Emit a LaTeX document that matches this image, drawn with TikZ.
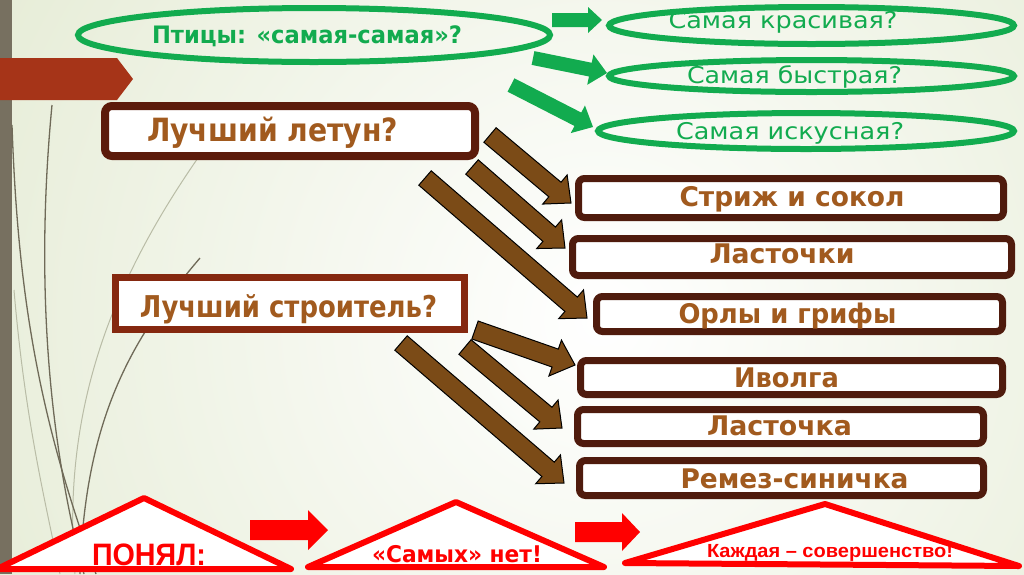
\documentclass[tikz,border=0pt]{standalone}
\usepackage{fontspec}
\usepackage{graphicx}
\usetikzlibrary{calc,shapes.geometric,shapes.misc}
\newfontfamily\gothic{DejaVu Sans}
\newfontfamily\narrowf{Liberation Sans}
\definecolor{grn}{HTML}{12AB4F}
\definecolor{brtxt}{HTML}{A15A1E}
\definecolor{boxbr}{HTML}{4F1B0D}
\definecolor{letbr}{HTML}{5C1B0B}
\definecolor{strbr}{HTML}{85280F}
\definecolor{arrbr}{HTML}{7B4B17}
\definecolor{tabred}{HTML}{A63418}
\definecolor{barc}{HTML}{777060}
\definecolor{bgout}{HTML}{DFE7CB}
\definecolor{decodark}{HTML}{6F6A58}
\definecolor{decolight}{HTML}{B9BCA6}
\newcommand\fitw[2]{\resizebox{#1}{\height}{#2}}
% block arrow: style, start, tip, shaft half width, head half width, head length
\newcommand\blockarrow[6]{%
  \coordinate (bah) at ($(#3)!#6!(#2)$);
  \path[#1] ($(#2)!#4!90:(#3)$) -- ($(bah)!#4!90:(#3)$) -- ($(bah)!#5!90:(#3)$)
    -- (#3) -- ($(bah)!#5!-90:(#3)$) -- ($(bah)!#4!-90:(#3)$) -- ($(#2)!#4!-90:(#3)$) -- cycle;
}
\begin{document}
\begin{tikzpicture}[x=1pt,y=-1pt,
  ell/.style={ellipse, draw=grn, line width=6pt, inner sep=0pt},
  rbox/.style={rectangle, draw=boxbr, line width=7pt, fill=white, rounded corners=6pt, inner sep=0pt},
  txtb/.style={anchor=base, inner sep=0pt, text=brtxt, font=\gothic\bfseries\fontsize{27}{27}\selectfont},
  txtg/.style={anchor=base, inner sep=0pt, text=grn, font=\gothic\fontsize{23}{23}\selectfont},
  txtr/.style={anchor=base, inner sep=0pt, text=red, font=\narrowf\bfseries\fontsize{31}{31}\selectfont},
  brarrow/.style={fill=arrbr, draw=black, line width=1pt, line join=miter},
  grarrow/.style={fill=grn},
  rdarrow/.style={fill=red},
  tri/.style={draw=red, line width=6pt, fill=white, line join=round},
  decod/.style={draw=decodark, line width=1.3pt},
  decol/.style={draw=decolight, line width=1pt}]
\useasboundingbox (0,0) rectangle (1024,574);
% background
\fill[bgout] (0,0) rectangle (1024,574);
\begin{scope}
  \clip (0,0) rectangle (1024,574);
  \shade[inner color=white, outer color=bgout] (600,320) circle[radius=900];
\end{scope}
\fill[barc] (0,0) rectangle (12,574);
% decorative grass lines
\draw[decol] (200,155) .. controls (120,270) and (60,400) .. (75,574);
\draw[decol] (14,290) .. controls (25,420) and (45,500) .. (60,574);
\draw[decod] (52,105) .. controls (40,230) and (38,400) .. (84,574);
\draw[decod] (12,125) .. controls (18,300) and (40,420) .. (96,574);
\draw[decod] (200,258) .. controls (130,340) and (85,420) .. (80,574);
% red tab
\fill[tabred] (0,58) -- (117,58) -- (133,79) -- (117,100) -- (0,100) -- cycle;
% ellipses
\node[ell, minimum width=472pt, minimum height=54pt] (e1) at (314,35) {};
\node[txtg, font=\gothic\bfseries\fontsize{24}{24}\selectfont] (t1) at ($(e1.center)+(-7,8)$) {\fitw{310pt}{Птицы: «самая-самая»?}};
\node[ell, minimum width=405pt, minimum height=37pt] (e2) at (811.5,25.5) {};
\node[txtg] (t2) at ($(e2.center)+(-28.5,3)$) {\fitw{229pt}{Самая красивая?}};
\node[ell, minimum width=405pt, minimum height=32pt] (e3) at (811.5,76) {};
\node[txtg] (t3) at ($(e3.center)+(-17,7.5)$) {\fitw{215pt}{Самая быстрая?}};
\node[ell, minimum width=416pt, minimum height=36pt] (e4) at (806,131) {};
\node[txtg] (t4) at ($(e4.center)+(-16,8)$) {\fitw{228pt}{Самая искусная?}};
% green arrows
\coordinate (g1s) at (552,20);  \coordinate (g1t) at (602,20);
\coordinate (g2s) at (533,58);  \coordinate (g2t) at (607,73);
\coordinate (g3s) at (511,85);  \coordinate (g3t) at (593,127);
\blockarrow{grarrow}{g1s}{g1t}{7pt}{13pt}{14pt}
\blockarrow{grarrow}{g2s}{g2t}{7pt}{15.5pt}{17pt}
\blockarrow{grarrow}{g3s}{g3t}{7.5pt}{15.5pt}{17pt}
% question boxes
\node[rbox, draw=letbr, line width=8pt, rounded corners=7pt, minimum width=370pt, minimum height=50pt] (lb) at (290,131) {};
\node[txtb, font=\gothic\bfseries\fontsize{32}{32}\selectfont] (lt) at ($(lb.center)+(-17.5,10)$) {\fitw{251pt}{Лучший летун?}};
\node[chamfered rectangle, chamfered rectangle xsep=6pt, chamfered rectangle ysep=6pt, draw=strbr, line width=7pt, fill=white, inner sep=0pt, minimum width=349pt, minimum height=52pt] (sb) at (290,303.5) {};
\node[txtb, font=\gothic\bfseries\fontsize{30}{30}\selectfont] (st) at ($(sb.center)+(-1.5,13.5)$) {\fitw{297pt}{Лучший строитель?}};
% answer boxes
\node[rbox, minimum width=425pt, minimum height=39pt] (b1) at (791,198) {};
\node[txtb] (a1) at ($(b1.center)+(1,8)$) {\fitw{225pt}{Стриж и сокол}};
\node[rbox, minimum width=439pt, minimum height=37pt] (b2) at (792,257) {};
\node[txtb] (a2) at ($(b2.center)+(-10,6)$) {\fitw{145pt}{Ласточки}};
\node[rbox, minimum width=406pt, minimum height=35pt] (b3) at (799.5,314) {};
\node[txtb] (a3) at ($(b3.center)+(-12,9)$) {\fitw{218pt}{Орлы и грифы}};
\node[rbox, minimum width=422pt, minimum height=34pt] (b4) at (791.5,377.5) {};
\node[txtb] (a4) at ($(b4.center)+(-5,9.5)$) {\fitw{105pt}{Иволга}};
\node[rbox, minimum width=406pt, minimum height=34pt] (b5) at (780.5,426.5) {};
\node[txtb] (a5) at ($(b5.center)+(-1,9)$) {\fitw{145pt}{Ласточка}};
\node[rbox, minimum width=404pt, minimum height=35pt] (b6) at (781.5,478) {};
\node[txtb] (a6) at ($(b6.center)+(13,10)$) {\fitw{228pt}{Ремез-синичка}};
% brown arrows
\coordinate (k1s) at (490,135); \coordinate (k1t) at (571,203);
\coordinate (k2s) at (472,167); \coordinate (k2t) at (565,248);
\coordinate (k3s) at (425,178); \coordinate (k3t) at (587,318);
\coordinate (k4s) at (475,330); \coordinate (k4t) at (575,365);
\coordinate (k5s) at (465,347); \coordinate (k5t) at (562,428);
\coordinate (k6s) at (401,343); \coordinate (k6t) at (564,483);
\blockarrow{brarrow}{k1s}{k1t}{9.5pt}{19pt}{21pt}
\blockarrow{brarrow}{k2s}{k2t}{9.5pt}{19pt}{21pt}
\blockarrow{brarrow}{k3s}{k3t}{9.5pt}{19pt}{21pt}
\blockarrow{brarrow}{k4s}{k4t}{9.5pt}{19pt}{21pt}
\blockarrow{brarrow}{k5s}{k5t}{9.5pt}{19pt}{21pt}
\blockarrow{brarrow}{k6s}{k6t}{9.5pt}{19pt}{21pt}
% bottom triangles
\coordinate (T1l) at (-3,569); \coordinate (T1a) at (144,498); \coordinate (T1r) at (291,569);
\coordinate (T2l) at (308,567); \coordinate (T2a) at (456,502); \coordinate (T2r) at (604,567);
\coordinate (T3l) at (625,563); \coordinate (T3a) at (825,504); \coordinate (T3r) at (1019,566);
\draw[tri] (T1l) -- (T1a) -- (T1r) -- cycle;
\draw[tri] (T2l) -- (T2a) -- (T2r) -- cycle;
\draw[tri] (T3l) -- (T3a) -- (T3r) -- cycle;
\node[txtr] (p1) at (149,565) {\fitw{114pt}{ПОНЯЛ:}};
\node[txtr, font=\gothic\bfseries\fontsize{23}{23}\selectfont] (p2) at (457,562) {\fitw{170pt}{«Самых» нет!}};
\node[txtr, font=\narrowf\bfseries\fontsize{19}{19}\selectfont] (p3) at (830,557) {\fitw{246pt}{Каждая – совершенство!}};
% red arrows
\coordinate (r1s) at (250,530); \coordinate (r1t) at (328,530);
\coordinate (r2s) at (575,532); \coordinate (r2t) at (640,532);
\blockarrow{rdarrow}{r1s}{r1t}{10pt}{20pt}{20pt}
\blockarrow{rdarrow}{r2s}{r2t}{10pt}{19pt}{18pt}
\end{tikzpicture}
\end{document}
